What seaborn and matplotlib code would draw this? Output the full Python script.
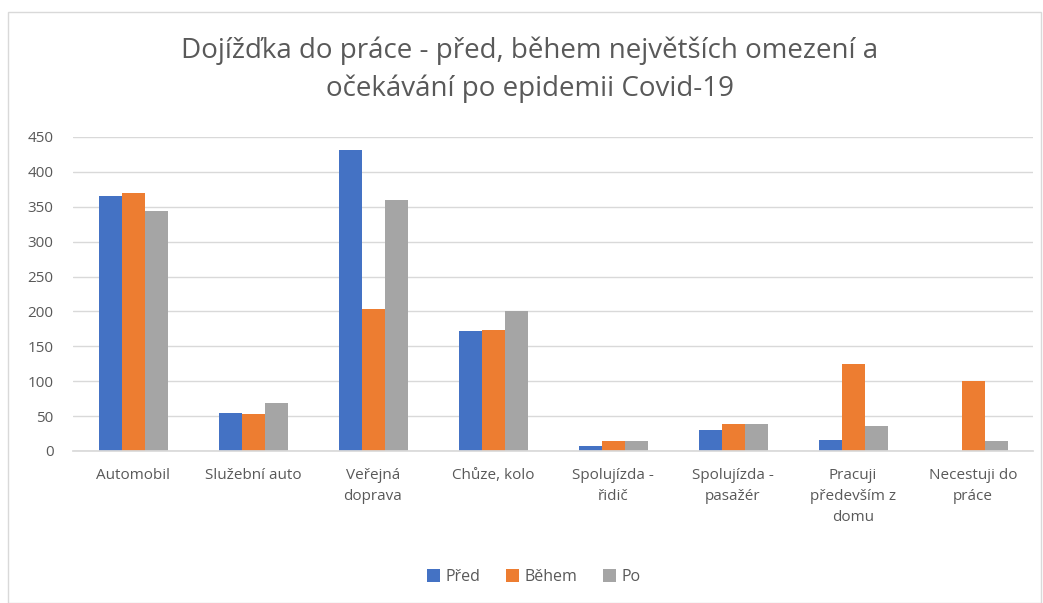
import matplotlib
matplotlib.use("Agg")
import matplotlib.pyplot as plt
import seaborn as sns
import pandas as pd
from matplotlib.patches import Rectangle

categories = [
    "Automobil", "Služební auto", "Veřejná\ndoprava", "Chůze, kolo",
    "Spolujízda -\nřidič", "Spolujízda -\npasažér", "Pracuji\npředevším z\ndomu",
    "Necestuji do\npráce",
]
series = ["Před", "Během", "Po"]
pred = [366, 55, 431, 172, 7, 30, 16, 0]
behem = [370, 53, 204, 174, 14, 38, 124, 100]
po = [344, 69, 359, 200, 14, 38, 36, 15]
colors = ["#4472C4", "#ED7D31", "#A5A5A5"]

df = pd.DataFrame({
    "kategorie": categories * 3,
    "serie": [s for s in series for _ in categories],
    "hodnota": pred + behem + po,
})

sns.set_theme(style="white")
plt.rcParams["font.family"] = ["Open Sans", "DejaVu Sans"]
text_col = "#595959"

fig = plt.figure(figsize=(10.43, 6.03), dpi=100)
ax = fig.add_axes([73 / 1043, 1 - 451 / 603, 960 / 1043, 314 / 603])

sns.barplot(data=df, x="kategorie", y="hodnota", hue="serie",
            palette=colors, width=0.575, saturation=1, linewidth=0,
            ax=ax, legend=True)

ax.set_xlim(-0.5, len(categories) - 0.5)
ax.set_ylim(0, 450)
ax.set_yticks(range(0, 451, 50))
ax.yaxis.grid(True, color="#D9D9D9", linewidth=1)
ax.set_axisbelow(True)
for s in ["top", "right", "left"]:
    ax.spines[s].set_visible(False)
ax.spines["bottom"].set_color("#D9D9D9")
ax.set_xlabel("")
ax.set_ylabel("")
ax.tick_params(axis="both", length=0, labelsize=11, colors=text_col)
ax.tick_params(axis="x", pad=12)
ax.tick_params(axis="y", pad=14)
for lbl in ax.get_xticklabels():
    lbl.set_linespacing(1.55)

fig.suptitle("Dojížďka do práce - před, během největších omezení a\n"
             "očekávání po epidemii Covid-19",
             x=0.508, y=0.94, fontsize=20, color=text_col, linespacing=1.45)

ax.legend(loc="upper center", bbox_to_anchor=(0.48, -0.33), ncol=3,
          frameon=False, fontsize=11.5, handlelength=0.8, handleheight=0.8,
          handletextpad=0.35, columnspacing=1.6, labelcolor=text_col)

fig.patches.append(Rectangle((8 / 1043, 0.0), 1 - 10 / 1043, 1 - 12 / 603,
                             transform=fig.transFigure, fill=False,
                             edgecolor="#D9D9D9", linewidth=1))

fig.savefig("out.png", dpi=100)
